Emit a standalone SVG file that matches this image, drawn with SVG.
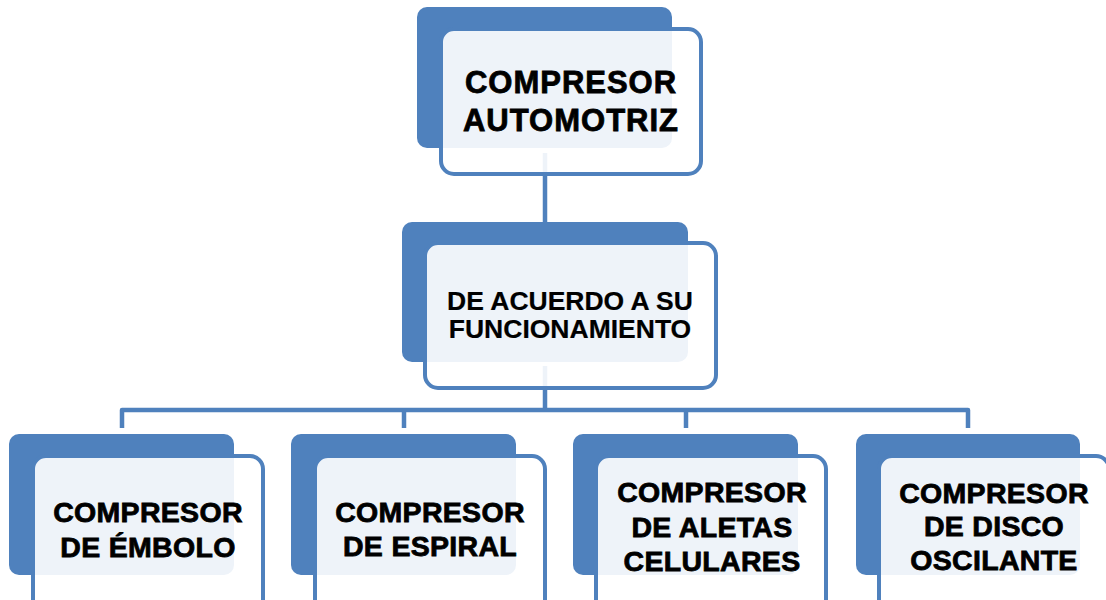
<svg xmlns="http://www.w3.org/2000/svg" width="1106" height="600" viewBox="0 0 1106 600">
<style>
.back{fill:#4F81BD}
.front{fill:#FFFFFF;fill-opacity:0.9;stroke:#4F81BD;stroke-width:4}
.conn{fill:none;stroke:#4F81BD;stroke-width:4.5;stroke-linejoin:round}
.t{font-family:"Liberation Sans",Arial,sans-serif;font-weight:bold;fill:#000;text-anchor:middle;stroke:#000;stroke-width:0.8}
.big{font-size:31px;letter-spacing:1px}
.mid{font-size:26.5px;stroke-width:0.2}
.sm{font-size:28.5px;letter-spacing:0.3px}
</style>
<rect width="1106" height="600" fill="#FFFFFF"/>
<g id="connectors">
<path class="conn" d="M545,153 V224"/>
<path class="conn" d="M545,366 V410"/>
<path class="conn" d="M122,428 V410 H968 V428"/>
<path class="conn" d="M404,410 V428"/>
<path class="conn" d="M686,410 V428"/>
</g>
<g id="n-automotriz">
<rect class="back" x="417" y="7" width="255" height="141" rx="10"/>
<rect class="front" x="441" y="29" width="260" height="145" rx="13"/>
<text class="t big" x="571" y="93">COMPRESOR</text>
<text class="t big" x="571" y="131">AUTOMOTRIZ</text>
</g>
<g id="n-funcionamiento">
<rect class="back" x="402" y="222" width="286" height="140" rx="10"/>
<rect class="front" x="425" y="243" width="291" height="145" rx="13"/>
<text class="t mid" x="570" y="310">DE ACUERDO A SU</text>
<text class="t mid" x="570" y="338">FUNCIONAMIENTO</text>
</g>
<g id="n-embolo">
<rect class="back" x="9" y="434" width="225" height="141" rx="10"/>
<rect class="front" x="33" y="456" width="230" height="160" rx="13"/>
<text class="t sm" x="148" y="522" stroke-width="1.3">COMPRESOR</text>
<text class="t sm" x="148" y="557" stroke-width="1.3">DE ÉMBOLO</text>
</g>
<g id="n-espiral">
<rect class="back" x="291" y="434" width="225" height="141" rx="10"/>
<rect class="front" x="315" y="456" width="230" height="160" rx="13"/>
<text class="t sm" x="430" y="522">COMPRESOR</text>
<text class="t sm" x="430" y="556">DE ESPIRAL</text>
</g>
<g id="n-aletas">
<rect class="back" x="573" y="434" width="225" height="141" rx="10"/>
<rect class="front" x="596" y="456" width="230" height="160" rx="13"/>
<text class="t sm" x="712" y="502">COMPRESOR</text>
<text class="t sm" x="712" y="537">DE ALETAS</text>
<text class="t sm" x="712" y="571">CELULARES</text>
</g>
<g id="n-disco">
<rect class="back" x="856" y="434" width="224" height="141" rx="10"/>
<rect class="front" x="879" y="456" width="230" height="160" rx="13"/>
<text class="t sm" x="994" y="503">COMPRESOR</text>
<text class="t sm" x="994" y="536">DE DISCO</text>
<text class="t sm" x="994" y="570">OSCILANTE</text>
</g>
</svg>
